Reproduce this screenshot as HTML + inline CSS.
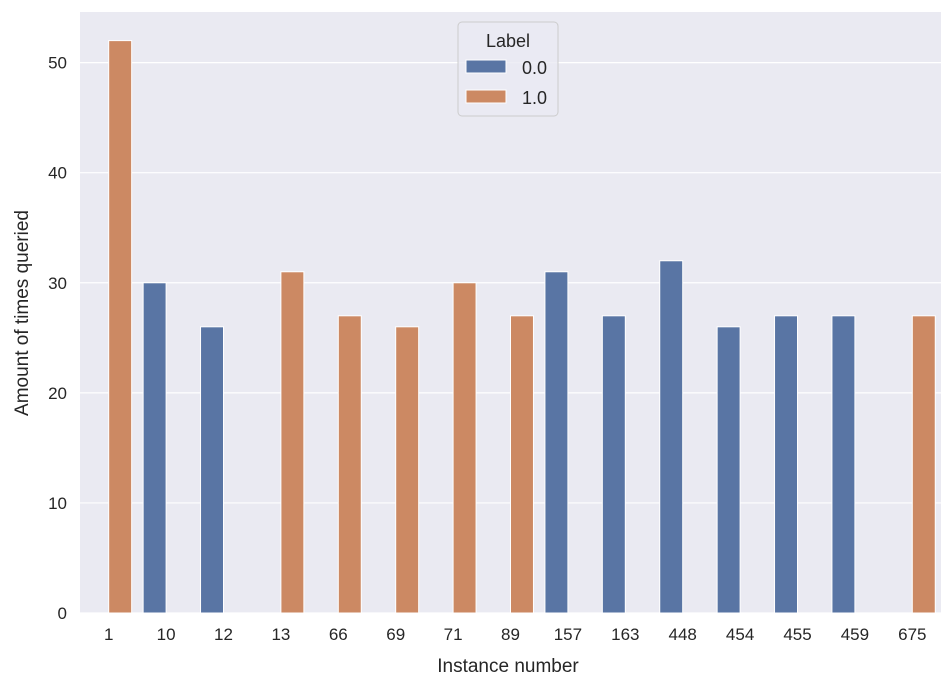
<!DOCTYPE html>
<html><head><meta charset="utf-8"><style>
body{margin:0;background:#fff;font-family:"Liberation Sans","DejaVu Sans",sans-serif}
svg text{font-family:"Liberation Sans","DejaVu Sans",sans-serif;fill:#262626}
</style></head><body>
<svg id="c" width="949" height="689" xmlns="http://www.w3.org/2000/svg">
<rect x="80" y="12" width="861" height="601" fill="#eaeaf2"/>
<g id="grid"></g><g id="bars"></g><g id="xt"></g><g id="yt"></g>
<text x="508" y="672" text-anchor="middle" font-size="19">Instance number</text>
<text transform="translate(28,313) rotate(-90)" text-anchor="middle" font-size="19">Amount of times queried</text>
<g>
<rect x="458" y="22" width="100" height="94" rx="4" fill="#eaeaf2" fill-opacity="0.8" stroke="#cccccc"/>
<text x="508" y="47" text-anchor="middle" font-size="18">Label</text>
<rect x="466" y="60" width="40" height="13" fill="#5975a4" stroke="#fff"/>
<text x="522" y="74" font-size="18">0.0</text>
<rect x="466" y="90" width="40" height="13" fill="#cc8963" stroke="#fff"/>
<text x="522" y="104" font-size="18">1.0</text>
</g>
</svg>
<script>
const categories=["1","10","12","13","66","69","71","89","157","163","448","454","455","459","675"];
const values=[52,30,26,31,27,26,30,27,31,27,32,26,27,27,27];
const labels=[1,0,0,1,1,1,1,1,0,0,0,0,0,0,1];
const yTicks=[0,10,20,30,40,50];
const colors=["#5975a4","#cc8963"];
const NS="http://www.w3.org/2000/svg";
const X0=80,W=861,Y0=613,YMAX=54.6,PH=601;
const step=W/categories.length;
function xs(i){return X0+step*(i+0.5);}
function ys(v){return Y0-v/YMAX*PH;}
function mk(t,a,p){const e=document.createElementNS(NS,t);for(const k in a)e.setAttribute(k,a[k]);document.getElementById(p).appendChild(e);return e;}
yTicks.forEach(v=>{
 const l=mk('line',{x1:X0,x2:X0+W,y1:ys(v),y2:ys(v),stroke:'#fff','stroke-width':1.2},'grid');
 
 
 const t=mk('text',{x:X0-13,y:ys(v)+6,'text-anchor':'end','font-size':17},'yt');t.textContent=v;
 
 
});
const bw=step*0.4;
categories.forEach((c,i)=>{
 const lab=labels[i];
 const cx=xs(i)+(lab===0?-bw/2:bw/2);
 const r=mk('rect',{x:cx-bw/2,y:ys(values[i]),width:bw,height:Y0-ys(values[i]),fill:colors[lab],stroke:'#fff','stroke-width':1},'bars');
 
 
 const t=mk('text',{x:xs(i),y:Y0+27,'text-anchor':'middle','font-size':17},'xt');t.textContent=c;
 
 
});
</script>
</body></html>
